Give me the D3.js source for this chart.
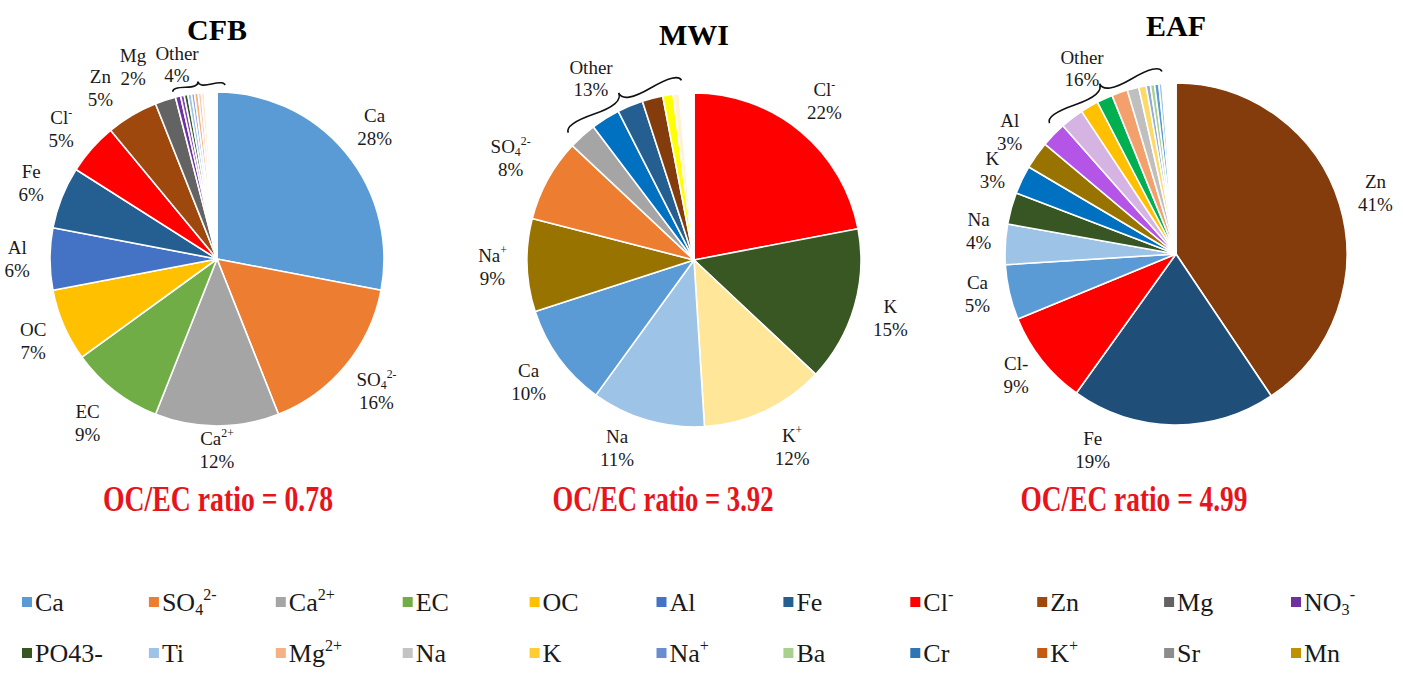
<!DOCTYPE html>
<html><head><meta charset="utf-8">
<script src="https://cdn.jsdelivr.net/npm/d3@7"></script>
<style>
body{margin:0;background:#fff}
svg{display:block;font-family:"Liberation Serif","Times New Roman",serif}
text,tspan{font-family:"Liberation Serif","Times New Roman",serif;fill:#1a1a1a}
</style>
</head><body><svg id="c" width="1403" height="675" font-family="Liberation Serif, serif"></svg>
<script>
// ---------------- DATA ----------------
const chartTitles = ["CFB", "MWI", "EAF"];
const ratioTexts = ["OC/EC ratio = 0.78", "OC/EC ratio = 3.92", "OC/EC ratio = 4.99"];

const cfbNames  = ["Ca","SO4 2-","Ca2+","EC","OC","Al","Fe","Cl-","Zn","Mg","NO3-","Sr","PO43-","Ti","Na+","Mg2+","K+","Mn","trace"];
const cfbValues = [28,16,12,9,7,6,6,5,5,2,0.5,0.35,0.35,0.35,0.3,0.35,0.3,0.3,1.2];
const cfbLabels = ["Ca|28%","SO{_4}{^2-}|16%","Ca{^2+}|12%","EC|9%","OC|7%","Al|6%","Fe|6%","Cl{^-}|5%","Zn|5%","Mg|2%"];
const cfbOther  = "Other|4%";

const mwiNames  = ["Cl-","K","K+","Na","Ca","Na+","SO4 2-","Ca2+","Cr","Fe","Zn","Mn","Ti","trace"];
const mwiValues = [22,15,12,11,10,9,8,2.7,2.8,2.5,2.0,1.0,0.6,1.4];
const mwiLabels = ["Cl{^-}|22%","K|15%","K{^+}|12%","Na|11%","Ca|10%","Na{^+}|9%","SO{_4}{^2-}|8%"];
const mwiOther  = "Other|13%";

const eafNames  = ["Zn","Fe","Cl-","Ca","Na","PO43-","K","Al","NO3-","Mg","OC","EC","Mg2+","Ca2+","Sr","Na+","Ba","Ti","Cr","trace"];
const eafValues = [40.6,19.3,8.9,5.2,3.8,3.0,2.7,2.6,2.4,2.2,1.7,1.5,1.5,1.1,0.7,0.4,0.4,0.4,0.3,1.3];
const eafLabels = ["Zn|41%","Fe|19%","Cl-|9%","Ca|5%","Na|4%",null,"K|3%","Al|3%"];
const eafOther  = "Other|16%";

const legendNames = ["Ca","SO{_4}{^2-}","Ca{^2+}","EC","OC","Al","Fe","Cl{^-}","Zn","Mg","NO{_3}{^-}",
                     "PO43-","Ti","Mg{^2+}","Na","K","Na{^+}","Ba","Cr","K{^+}","Sr","Mn"];

// ---------------- STYLES ----------------
const cfbColors = ["#5b9bd5","#ed7d31","#a5a5a5","#70ad47","#ffc000","#4472c4","#255e91","#ff0000","#9e480e","#636363",
                   "#7030a0","#8046b4","#375623","#9dc3e6","#8faadc","#f4b183","#f8cbad","#fbe5d6","#ffffff"];
const mwiColors = ["#ff0000","#385723","#ffe699","#9dc3e6","#5b9bd5","#997300","#ed7d31","#a5a5a5","#0070c0","#255e91",
                   "#843c0c","#ffff00","#fff2cc","#ffffff"];
const eafColors = ["#843c0c","#1f4e79","#ff0000","#5b9bd5","#9dc3e6","#375623","#0070c0","#997300","#b455e8","#d5b3e3",
                   "#ffc000","#00b050","#f4a06c","#bfbfbf","#ffd966","#8faadc","#a9d18e","#5b9bd5","#9dc3e6","#ffffff"];
const legendColors = ["#5b9bd5","#ed7d31","#a5a5a5","#70ad47","#ffc000","#4472c4","#255e91","#ff0000","#9e480e","#636363","#7030a0",
                      "#375623","#9dc3e6","#f4b183","#c3c3c3","#ffcd33","#698ed0","#a9d18e","#2e75b6","#c55a11","#8c8c8c","#bf9000"];

// ---------------- LAYOUT ----------------
const layout = [
  {cx:217, cy:259, r:167, titleY:40, ratioX:218, ratioW:230, brace:[345.2, 2.6, 6, 7], other:[177,65],
   nudge:{2:[0,-16], 3:[-7,0], 7:[-6,7], 8:[-15,7], 9:[-22,5]}},
  {cx:694, cy:260, r:167, titleY:45, ratioX:663, ratioW:221, brace:[315.4, 356, 12, 15], other:[591,79],
   nudge:{2:[11,0], 3:[-20,-11], 6:[-2,-2]}},
  {cx:1176, cy:254, r:171, titleY:36, ratioX:1134, ratioW:227, brace:[316, 355.6, 11, 15], other:[1082,69],
   nudge:{1:[-80,-15], 2:[0,-10], 3:[0,-7], 4:[6,-11], 6:[0,8]}}
];

const charts = [
  {names:cfbNames, values:cfbValues, colors:cfbColors, labels:cfbLabels, other:cfbOther},
  {names:mwiNames, values:mwiValues, colors:mwiColors, labels:mwiLabels, other:mwiOther},
  {names:eafNames, values:eafValues, colors:eafColors, labels:eafLabels, other:eafOther}
];

// ---------------- HELPERS ----------------
const SERIF = "Liberation Serif, Times New Roman, serif";
function rich(sel, str, fs) {
  const parts = str.split(/(\{[_^][^}]*\})/).filter(s => s.length);
  let shift = 0;
  parts.forEach(p => {
    const m = p.match(/^\{([_^])(.*)\}$/);
    let target = 0, size = fs, txt = p;
    if (m) { target = m[1] === "_" ? 0.16 * fs : -0.42 * fs; size = 0.62 * fs; txt = m[2]; }
    sel.append("tspan").attr("dy", target - shift).attr("font-size", size)
      .attr("font-family", SERIF).text(txt);
    shift = target;
  });
}
function multiLabel(g, str, fs, lh) {
  const lines = str.split("|");
  lines.forEach((ln, i) => {
    const t = g.append("text").attr("text-anchor", "middle").attr("font-family", SERIF)
      .attr("y", -5 + i * lh).attr("font-size", fs);
    rich(t, ln, fs);
  });
}
function bracePath(x1, y1, x2, y2, w, q) {
  let dx = x1 - x2, dy = y1 - y2;
  const len = Math.sqrt(dx * dx + dy * dy);
  dx /= len; dy /= len;
  const qx1 = x1 + q * w * dy, qy1 = y1 - q * w * dx;
  const qx2 = (x1 - .25 * len * dx) + (1 - q) * w * dy, qy2 = (y1 - .25 * len * dy) - (1 - q) * w * dx;
  const tx1 = (x1 - .5 * len * dx) + w * dy, ty1 = (y1 - .5 * len * dy) - w * dx;
  const qx3 = x2 + q * w * dy, qy3 = y2 - q * w * dx;
  const qx4 = (x1 - .75 * len * dx) + (1 - q) * w * dy, qy4 = (y1 - .75 * len * dy) - (1 - q) * w * dx;
  return `M${x1},${y1} Q${qx1},${qy1} ${qx2},${qy2} T${tx1},${ty1} M${x2},${y2} Q${qx3},${qy3} ${qx4},${qy4} T${tx1},${ty1}`;
}

// ---------------- DRAW ----------------
const svg = d3.select("#c");
const deg = Math.PI / 180;
const pie = d3.pie().sort(null).value(d => d.v).startAngle(0).endAngle(2 * Math.PI);

charts.forEach((ch, ci) => {
  const L = layout[ci];
  const data = ch.names.map((n, i) => ({name: n, v: ch.values[i], color: ch.colors[i], label: ch.labels[i] || null}));
  const arcs = pie(data);
  const arc = d3.arc().innerRadius(0).outerRadius(L.r);
  const g = svg.append("g").attr("transform", `translate(${L.cx},${L.cy})`);

  g.selectAll("path.slice").data(arcs).join("path")
    .attr("class", "slice")
    .attr("d", arc)
    .attr("fill", d => d.data.color)
    .attr("stroke", "#ffffff")
    .attr("stroke-width", 1.6)
    .attr("stroke-linejoin", "round");

  // slice labels
  const gap = 20, hh = 20;
  arcs.filter(d => d.data.label).forEach(d => {
    const a = (d.startAngle + d.endAngle) / 2;
    const ux = Math.sin(a), uy = -Math.cos(a);
    const lg = g.append("g");
    multiLabel(lg, d.data.label, 19, 23);
    const bb = lg.node().getBBox();
    const hw = bb.width / 2;
    const nd = L.nudge[d.index] || [0, 0];
    const x = ux * (L.r + gap) + ux * hw + nd[0];
    const y = uy * (L.r + gap) + uy * hh + nd[1];
    lg.attr("transform", `translate(${x},${y})`);
  });

  // brace for "Other"
  const [a0, a1, ro, tip] = L.brace;
  const R = L.r + ro;
  const p0 = [R * Math.sin(a0 * deg), -R * Math.cos(a0 * deg)];
  const p1 = [(R + 1) * Math.sin(a1 * deg), -(R + 1) * Math.cos(a1 * deg)];
  g.append("path")
    .attr("d", bracePath(p1[0], p1[1], p0[0], p0[1], tip, 0.6))
    .attr("fill", "none").attr("stroke", "#111").attr("stroke-width", 1.6);

  const og = svg.append("g").attr("transform", `translate(${L.other[0]},${L.other[1]})`);
  multiLabel(og, ch.other, 19, 22);

  // title
  svg.append("text").attr("x", L.cx).attr("y", L.titleY).attr("text-anchor", "middle").attr("font-family", SERIF)
    .attr("font-size", 30).attr("font-weight", "bold").style("fill", "#000").text(chartTitles[ci]);

  // OC/EC ratio
  svg.append("text").attr("x", L.ratioX).attr("y", 511).attr("text-anchor", "middle").attr("font-family", SERIF)
    .attr("font-size", 36).attr("font-weight", "bold").style("fill", "#e8141c")
    .attr("textLength", L.ratioW).attr("lengthAdjust", "spacingAndGlyphs")
    .text(ratioTexts[ci]);
});

// ---------------- LEGEND ----------------
const perRow = 11;
const legX = d3.scaleLinear().domain([0, perRow - 1]).range([22, 1291]);
const legY = d3.scalePoint().domain([0, 1]).range([602, 653]);
const lg = svg.append("g");
legendNames.forEach((n, i) => {
  const col = i % perRow, row = Math.floor(i / perRow);
  const x = legX(col), y = legY(row);
  lg.append("rect").attr("x", x).attr("y", y - 5).attr("width", 10).attr("height", 10).attr("fill", legendColors[i]);
  const t = lg.append("text").attr("x", x + 13).attr("y", y + 9).attr("font-size", 26).attr("font-family", SERIF);
  rich(t, n, 26);
});
</script>
</body></html>
